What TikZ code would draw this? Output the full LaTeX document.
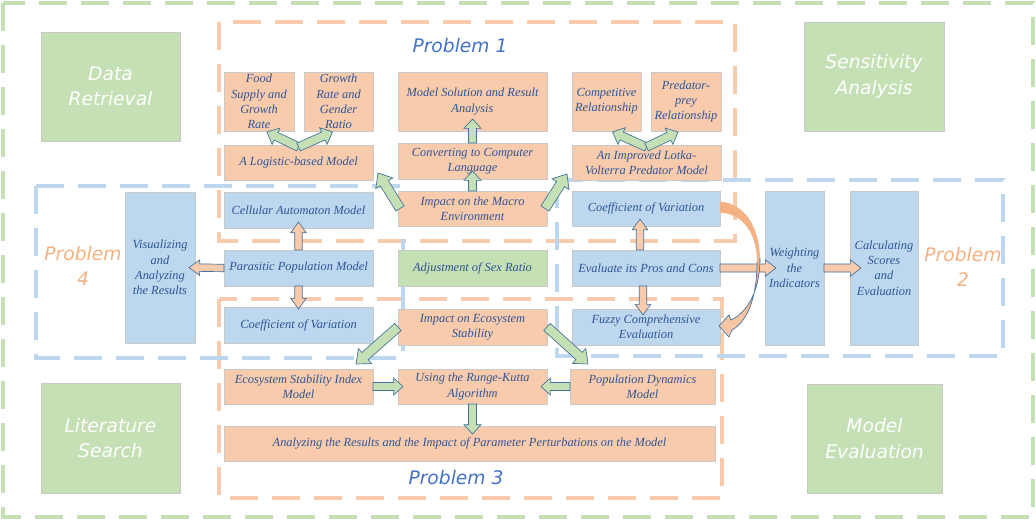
\documentclass[tikz,border=0pt]{standalone}
\usepackage{fontspec}
\setmainfont{Liberation Serif}
\newfontfamily\handfont{DejaVu Sans}
\usetikzlibrary{calc}
\definecolor{gfill}{HTML}{C5E0B4}
\definecolor{ofill}{HTML}{F8CBAD}
\definecolor{bfill}{HTML}{BDD7EE}
\definecolor{odark}{HTML}{F4B183}
\definecolor{txtblue}{HTML}{2F5597}
\definecolor{lblue}{HTML}{4472C4}
\definecolor{arrline}{HTML}{41719C}
\definecolor{boxline}{HTML}{C9C9C9}
\tikzset{
  basebox/.style={inner sep=0pt, outer sep=0pt, align=center, draw=boxline, line width=0.6pt},
  obox/.style={basebox, fill=ofill, text=txtblue, font=\fontsize{9.3}{11.5}\selectfont\itshape},
  bbox/.style={basebox, fill=bfill, text=txtblue, font=\fontsize{9.3}{11.5}\selectfont\itshape},
  sbox/.style={basebox, fill=gfill, text=txtblue, font=\fontsize{9.3}{11.5}\selectfont\itshape},
  gbox/.style={basebox, fill=gfill, text=white, font=\handfont\fontsize{14}{19}\selectfont\itshape},
  frame/.style={line width=3pt, dash pattern=on 21pt off 10.5pt},
  gframe/.style={frame, draw=gfill},
  oframe/.style={frame, draw=ofill},
  bframe/.style={frame, draw=bfill},
  garr/.style={fill=gfill, draw=arrline, line width=0.5pt, line join=miter},
  oarr/.style={fill=ofill, draw=arrline, line width=0.5pt, line join=miter},
  plabel/.style={font=\handfont\fontsize{14}{19}\selectfont\itshape, align=center, inner sep=0pt},
}
\newcommand\bx[7]{\node[#2, minimum width={(#5-#3)*0.75pt}, minimum height={(#6-#4)*0.75pt}] (#1) at ({(#3+#5)/2},{(#4+#6)/2}) {#7};}
\newcommand\fatarrow[6][]{%
  \draw[#1] let \p1=#2, \p2=#3, \n1={atan2(\y2-\y1,\x2-\x1)} in
   ($(\p1)+(\n1+90:#4)$) -- ($(\p2)+(\n1+180:#6)+(\n1+90:#4)$) -- ($(\p2)+(\n1+180:#6)+(\n1+90:#5)$) -- (\p2) -- ($(\p2)+(\n1+180:#6)+(\n1-90:#5)$) -- ($(\p2)+(\n1+180:#6)+(\n1-90:#4)$) -- ($(\p1)+(\n1-90:#4)$) -- cycle;}
\begin{document}
\begin{tikzpicture}[x=0.75pt,y=-0.75pt]
\useasboundingbox[fill=white] (0,0) rectangle (1036,521);
% frames
\draw[gframe] (3,3) rectangle (1033,517);
\draw[oframe] (219,22) rectangle (735,241);
\draw[oframe] (219,299) rectangle (722,498);
\draw[bframe] (36,186) rectangle (403,358);
\draw[bframe] (557,180) rectangle (1003,356);
% green side boxes
\bx{data}{gbox}{41}{32}{180}{141}{Data\\Retrieval}
\bx{sens}{gbox}{804}{22}{944}{131}{Sensitivity\\Analysis}
\bx{lit}{gbox}{41}{383}{180}{493}{Literature\\Search}
\bx{meval}{gbox}{807}{384}{942}{493}{Model\\Evaluation}
% problem 1
\bx{food}{obox}{224}{72}{294}{131}{Food\\Supply and\\Growth\\Rate}
\bx{grow}{obox}{304}{72}{373}{131}{Growth\\Rate and\\Gender\\Ratio}
\bx{logi}{obox}{224}{145}{373}{180}{A Logistic-based Model}
\bx{msol}{obox}{398}{72}{547}{131}{Model Solution and Result\\Analysis}
\bx{conv}{obox}{398}{143}{547}{179}{Converting to Computer\\Language}
\bx{macro}{obox}{398}{191}{547}{226}{Impact on the Macro\\Environment}
\bx{comp}{obox}{572}{72}{641}{131}{Competitive\\Relationship}
\bx{pred}{obox}{651}{72}{721}{131}{Predator-\\prey\\Relationship}
\bx{lotka}{obox}{572}{145}{721}{180}{An Improved Lotka-\\Volterra Predator Model}
% problem 4
\bx{cell}{bbox}{224}{192}{373}{228}{Cellular Automaton Model}
\bx{para}{bbox}{224}{250}{373}{286}{Parasitic Population Model}
\bx{cvl}{bbox}{224}{307}{373}{343}{Coefficient of Variation}
\bx{vis}{bbox}{125}{192}{195}{343}{Visualizing\\and\\Analyzing\\the Results}
\bx{sex}{sbox}{398}{250}{547}{286}{Adjustment of Sex Ratio}
% problem 2
\bx{cvr}{bbox}{572}{191}{720}{226}{Coefficient of Variation}
\bx{eval}{bbox}{572}{250}{720}{286}{Evaluate its Pros and Cons}
\bx{fuzzy}{bbox}{572}{309}{720}{345}{Fuzzy Comprehensive\\Evaluation}
\bx{weight}{bbox}{765}{191}{824}{345}{Weighting\\the\\Indicators}
\bx{calc}{bbox}{850}{191}{918}{345}{Calculating\\Scores\\and\\Evaluation}
% problem 3
\bx{eco}{obox}{398}{309}{547}{345}{Impact on Ecosystem\\Stability}
\bx{esi}{obox}{224}{369}{373}{404}{Ecosystem Stability Index\\Model}
\bx{rk}{obox}{398}{369}{547}{404}{Using the Runge-Kutta\\Algorithm}
\bx{pop}{obox}{570}{369}{715}{404}{Population Dynamics\\Model}
\bx{ana}{obox}{224}{426}{715}{461}{Analyzing the Results and the Impact of Parameter Perturbations on the Model}
% labels
\node[plabel, text=lblue] (p1) at (460,46) {Problem 1};
\node[plabel, text=lblue] (p3) at (456,478) {Problem 3};
\node[plabel, text=odark] (p4) at (83,266) {Problem\\4};
\node[plabel, text=odark] (p2) at (963,267) {Problem\\2};
% green arrows problem 1
\fatarrow[garr]{($(logi.north)+(0,2)$)}{($(food.south)+(8,1)$)}{3.2pt}{6.8pt}{7.5pt}
\fatarrow[garr]{($(logi.north)+(0,2)$)}{($(grow.south)+(-6,1)$)}{3.2pt}{6.8pt}{7.5pt}
\fatarrow[garr]{($(lotka.north)+(0,2)$)}{($(comp.south)+(6,1)$)}{3.2pt}{6.8pt}{7.5pt}
\fatarrow[garr]{($(lotka.north)+(0,2)$)}{($(pred.south)+(-8,1)$)}{3.2pt}{6.8pt}{7.5pt}
\fatarrow[garr]{(conv.north)}{($(msol.south)+(0,-12)$)}{3pt}{6.4pt}{7pt}
\fatarrow[garr]{(macro.north)}{($(conv.south)+(0,-8)$)}{3pt}{6.4pt}{7pt}
\fatarrow[garr]{($(macro.west)+(2,0)$)}{($(logi.south east)+(5,-7)$)}{3.6pt}{7.5pt}{9pt}
\fatarrow[garr]{($(macro.east)+(-2,0)$)}{($(lotka.south west)+(-5,-6)$)}{3.6pt}{7.5pt}{9pt}
% green arrows problem 3
\fatarrow[garr]{(eco.west)}{($(esi.north east)+(-17,-5)$)}{3.6pt}{7.5pt}{9pt}
\fatarrow[garr]{(eco.east)}{($(pop.north west)+(18,-5)$)}{3.6pt}{7.5pt}{9pt}
\fatarrow[garr]{(esi.east)}{($(rk.west)+(5,0)$)}{3pt}{6.4pt}{7pt}
\fatarrow[garr]{(pop.west)}{($(rk.east)+(-6,0)$)}{3pt}{6.4pt}{7pt}
\fatarrow[garr]{(rk.south)}{($(ana.north)+(3,8)$)}{3pt}{6.4pt}{7pt}
% orange arrows
\fatarrow[oarr]{(para.north)}{($(cell.south)+(0,-6)$)}{2.8pt}{5.8pt}{8pt}
\fatarrow[oarr]{(para.south)}{($(cvl.north)+(0,2)$)}{2.8pt}{5.8pt}{8pt}
\fatarrow[oarr]{(para.west)}{($(vis.east)+(-6,0)$)}{2.8pt}{5.8pt}{8pt}
\fatarrow[oarr]{($(eval.north)+(-6,0)$)}{($(cvr.south)+(-6,-7)$)}{2.8pt}{5.8pt}{8pt}
\fatarrow[oarr]{($(eval.south)+(-3,0)$)}{($(fuzzy.north)+(-3,6)$)}{2.8pt}{5.8pt}{8pt}
\fatarrow[oarr]{(eval.east)}{($(weight.west)+(11,0)$)}{3pt}{6.2pt}{8pt}
\fatarrow[oarr]{(weight.east)}{($(calc.west)+(11,0)$)}{3pt}{6.2pt}{8pt}
% curved arrow
\shade[top color=odark, bottom color=ofill, middle color=odark]
  ($(cvr.east)+(0,-7)$) .. controls (748,204) and (760,232) .. (760,260)
  .. controls (760,290) and (748,312) .. (731,320) -- (729,315) -- ($(fuzzy.east)+(-1,-1)$)
  -- (729,337) -- (732,330) .. controls (750,320) and (757,292) .. (757,262)
  .. controls (757,236) and (745,214) .. ($(cvr.east)+(0,4)$) -- cycle;
\draw[arrline, line width=0.5pt, line join=miter]
  (760,258) .. controls (760,290) and (748,312) .. (731,320) -- (729,315) -- ($(fuzzy.east)+(-1,-1)$)
  -- (729,337) -- (732,330) .. controls (750,320) and (757,292) .. (757,262);
\end{tikzpicture}
\end{document}
